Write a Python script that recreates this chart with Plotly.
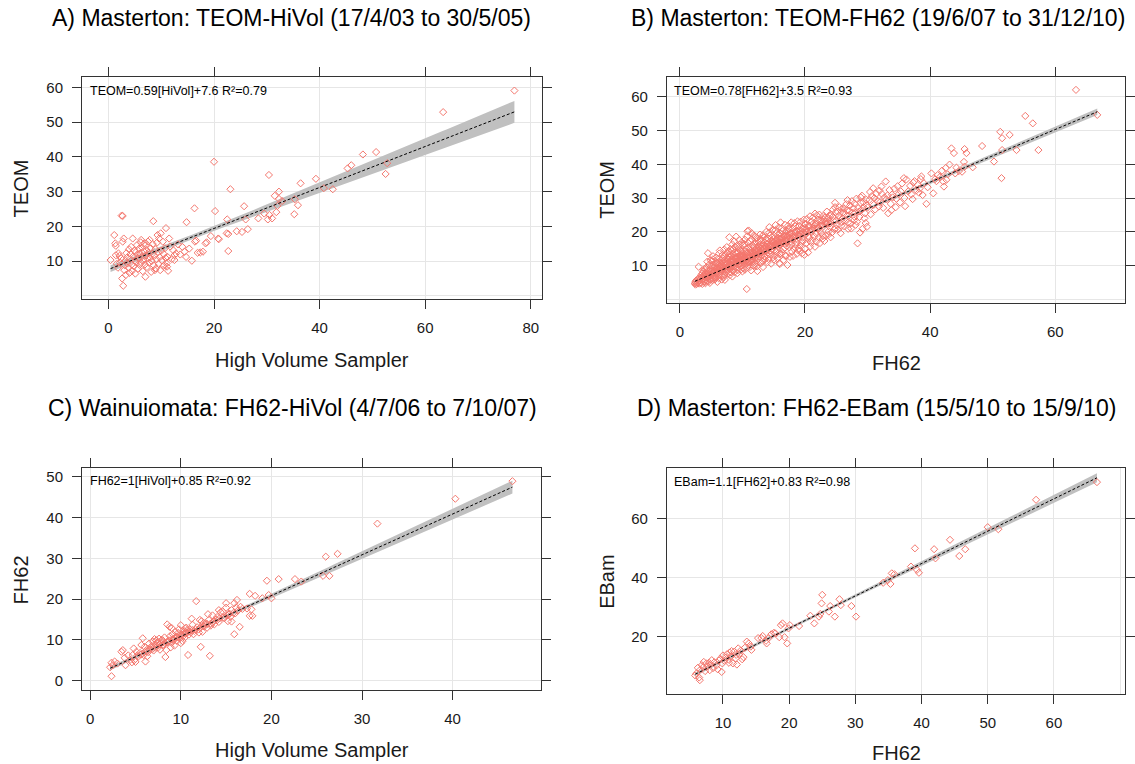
import numpy as np
import plotly.graph_objects as go

W, H = 1135, 764
FONT = "Liberation Sans, Arial, sans-serif"
PT_COLOR = "#F4776E"
BAND_COLOR = "rgb(192,192,192)"

# A) Masterton: TEOM vs High Volume Sampler (HiVol, TEOM)
pts_a = [
    (0.4, 10.3), (1.1, 17.5), (1.3, 15.1), (1.4, 14.4), (1.4, 11.7), (1.9, 12.2), (2.4, 10.8), (1.6, 9.2),
    (1.8, 8.1), (2.1, 11.5), (2.2, 9.6), (2.5, 23.1), (2.7, 23.0), (2.7, 15.6), (2.9, 16.5), (2.6, 5.0),
    (2.8, 2.9), (3.3, 6.0), (3.0, 7.4), (3.1, 8.8), (3.2, 10.1), (3.4, 12.3), (3.5, 11.0), (3.6, 9.3),
    (3.8, 8.1), (3.9, 13.4), (4.0, 6.6), (4.1, 10.6), (4.3, 14.1), (4.2, 12.0), (4.4, 9.0), (4.5, 7.2),
    (4.6, 16.5), (4.7, 11.4), (4.8, 8.5), (4.9, 13.0), (5.0, 10.2), (5.1, 6.4), (5.2, 12.6), (5.3, 9.6),
    (5.4, 14.6), (5.5, 11.9), (5.6, 7.8), (5.7, 10.8), (5.8, 13.6), (5.9, 8.9), (6.0, 12.2), (6.1, 15.4),
    (6.2, 16.1), (6.2, 9.5), (6.3, 11.2), (6.4, 13.9), (6.5, 7.1), (6.6, 10.3), (6.7, 12.8), (6.8, 15.1),
    (6.9, 9.0), (7.0, 5.5), (7.0, 14.5), (7.1, 11.6), (7.2, 13.2), (7.3, 8.3), (7.4, 10.7), (7.5, 15.6),
    (7.6, 12.4), (7.7, 9.5), (7.8, 16.1), (7.9, 11.0), (8.0, 13.7), (8.1, 6.9), (8.2, 10.0), (8.3, 12.1),
    (8.4, 14.9), (8.5, 21.5), (8.6, 8.8), (8.7, 11.5), (8.8, 7.4), (8.9, 13.4), (9.0, 7.9), (9.1, 10.5),
    (9.2, 15.3), (9.3, 17.5), (9.4, 12.6), (9.5, 9.2), (9.6, 16.5), (9.7, 11.1), (9.8, 7.4), (9.9, 18.0),
    (10.0, 13.0), (10.1, 10.2), (10.3, 15.6), (10.4, 8.6), (10.5, 12.0), (10.6, 8.8), (10.7, 13.7), (10.8, 10.9),
    (10.9, 19.5), (11.0, 9.3), (11.1, 8.4), (11.2, 11.2), (11.3, 7.2), (11.5, 16.5), (11.7, 14.2), (12.0, 10.6),
    (12.3, 13.1), (12.5, 10.3), (12.5, 11.7), (12.8, 12.2), (13.2, 14.8), (13.6, 11.9), (14.0, 14.1), (14.4, 12.7),
    (14.7, 11.2), (14.8, 21.2), (15.3, 13.6), (15.8, 10.1), (16.3, 25.2), (16.4, 15.6), (16.6, 15.9), (16.9, 12.4),
    (17.4, 12.5), (17.9, 12.7), (18.4, 15.1), (18.6, 15.4), (19.4, 17.2), (20.2, 24.4), (20.0, 38.6), (20.8, 16.5),
    (20.9, 16.3), (22.4, 18.0), (22.5, 22.0), (22.7, 12.9), (22.7, 17.8), (23.1, 30.7), (24.3, 18.6), (25.3, 18.4),
    (25.7, 25.8), (26.0, 22.0), (26.4, 19.2), (28.4, 22.3), (29.5, 23.7), (30.2, 22.0), (30.4, 34.8), (30.5, 23.3),
    (31.0, 22.3), (31.5, 28.8), (31.8, 24.1), (32.0, 25.9), (32.3, 30.0), (32.3, 27.9), (32.9, 27.3), (35.2, 23.5),
    (35.3, 27.8), (35.9, 26.1), (36.4, 32.4), (39.3, 33.7), (40.8, 31.0), (42.5, 30.7), (45.3, 36.7), (46.0, 37.6),
    (48.2, 40.7), (50.7, 41.4), (52.5, 35.1), (52.8, 38.2), (63.4, 52.9), (76.9, 59.1),
]

# B) Masterton: TEOM vs FH62 (FH62, TEOM)
pts_b = [
    (2.4, 4.8), (2.5, 5.2), (2.5, 4.4), (2.6, 5.6), (2.8, 4.9), (2.9, 6.1), (3.0, 9.7), (3.0, 5.3), (2.7, 4.6), (3.1, 4.7),
    (3.2, 6.5), (3.3, 5.0), (3.4, 7.2), (3.5, 5.8), (3.6, 4.6), (3.7, 8.3), (3.8, 6.2), (3.9, 9.0), (3.4, 4.9), (3.6, 7.7),
    (3.9, 5.4), (3.8, 7.0), (4.0, 5.1), (4.1, 7.9), (4.2, 6.4), (4.3, 9.6), (4.4, 5.5), (4.5, 13.7), (4.5, 8.4), (4.6, 7.0),
    (4.7, 10.3), (4.8, 6.0), (4.9, 8.9), (4.1, 4.8), (4.4, 11.2), (4.8, 4.9), (4.2, 9.0), (4.6, 5.3), (4.9, 11.6), (5.0, 7.4),
    (5.1, 9.8), (5.2, 5.7), (5.3, 11.9), (5.4, 8.1), (5.5, 6.5), (5.6, 10.6), (5.7, 7.9), (5.8, 12.4), (5.9, 9.1), (5.0, 6.0),
    (5.2, 8.6), (5.4, 10.3), (5.6, 5.9), (5.8, 7.2), (5.3, 12.8), (5.5, 9.4), (5.9, 11.0), (5.7, 6.4), (5.1, 11.2), (6.0, 8.0),
    (6.1, 10.2), (6.2, 6.3), (6.3, 12.0), (6.4, 9.3), (6.5, 7.1), (6.6, 11.4), (6.7, 8.6), (6.8, 13.1), (6.9, 10.0), (6.0, 5.2),
    (6.2, 11.0), (6.4, 7.6), (6.6, 9.9), (6.8, 6.8), (6.3, 13.6), (6.5, 10.7), (6.9, 12.2), (6.1, 8.8), (6.7, 5.9), (6.4, 14.5),
    (7.0, 9.0), (7.1, 11.6), (7.2, 7.3), (7.3, 13.5), (7.4, 10.4), (7.5, 8.2), (7.6, 12.3), (7.7, 9.6), (7.8, 14.2), (7.9, 18.4),
    (7.0, 6.6), (7.2, 12.9), (7.4, 8.7), (7.6, 10.9), (7.8, 7.8), (7.1, 14.8), (7.3, 10.0), (7.5, 15.5), (7.7, 11.8), (7.9, 9.2),
    (7.2, 5.8), (7.6, 13.8), (7.9, 12.6), (8.0, 10.1), (8.1, 12.7), (8.2, 8.0), (8.3, 14.4), (8.4, 11.2), (8.5, 9.0), (8.6, 13.3),
    (8.7, 10.5), (8.8, 15.6), (8.9, 12.0), (8.0, 7.2), (8.2, 11.6), (8.4, 16.3), (8.6, 8.6), (8.8, 13.9), (8.1, 14.9), (8.3, 9.7),
    (8.5, 12.5), (8.7, 17.2), (8.9, 10.9), (8.4, 6.8), (8.6, 15.0), (8.0, 13.4), (8.8, 8.2), (9.0, 18.6), (9.1, 10.8), (9.2, 13.7),
    (9.3, 8.7), (9.4, 15.2), (9.5, 12.0), (9.6, 9.8), (9.7, 14.3), (9.8, 11.3), (9.9, 16.9), (9.0, 12.5), (9.2, 7.8), (9.4, 11.7),
    (9.6, 13.1), (9.8, 8.9), (9.1, 15.8), (9.3, 10.4), (9.5, 17.6), (9.7, 12.8), (9.9, 10.0), (9.3, 14.0), (9.6, 16.2), (9.9, 13.5),
    (9.0, 9.4), (10.0, 11.5), (10.1, 14.6), (10.2, 9.2), (10.3, 16.4), (10.4, 12.6), (10.5, 10.3), (10.6, 15.0), (10.7, 3.1), (10.8, 20.2),
    (10.9, 13.2), (10.0, 8.3), (10.2, 13.0), (10.4, 17.7), (10.6, 11.1), (10.8, 9.5), (10.1, 16.0), (10.3, 11.9), (10.5, 14.2), (10.7, 18.6),
    (10.9, 11.0), (11.0, 20.4), (10.4, 8.8), (10.7, 13.6), (10.9, 16.8), (10.2, 12.2), (11.0, 12.3), (11.1, 15.4), (11.2, 9.6), (11.3, 17.2),
    (11.4, 13.5), (11.5, 11.0), (11.6, 16.1), (11.7, 12.7), (11.8, 18.9), (11.9, 14.3), (11.1, 10.4), (11.3, 13.9), (11.5, 19.6), (11.7, 10.1),
    (11.9, 16.7), (11.2, 14.8), (11.4, 8.6), (11.6, 12.0), (11.8, 15.5), (11.3, 11.5), (11.8, 9.9), (11.5, 17.8), (12.0, 13.1), (12.1, 16.6),
    (12.2, 10.6), (12.3, 18.3), (12.4, 14.2), (12.5, 11.9), (12.6, 17.0), (12.7, 13.6), (12.8, 19.2), (12.9, 15.1), (12.1, 12.4), (12.3, 9.8),
    (12.5, 15.7), (12.7, 10.9), (12.9, 17.9), (12.2, 14.6), (12.4, 8.4), (12.6, 12.8), (12.8, 16.2), (12.0, 18.7), (13.0, 14.0), (13.1, 17.4),
    (13.2, 11.4), (13.3, 19.0), (13.4, 15.1), (13.5, 12.6), (13.6, 16.9), (13.7, 14.4), (13.8, 20.0), (13.9, 13.0), (13.0, 10.8), (13.2, 16.0),
    (13.4, 18.4), (13.6, 11.8), (13.8, 15.6), (13.1, 13.2), (13.3, 9.6), (13.5, 14.9), (13.7, 17.8), (13.9, 16.3), (14.0, 14.8), (14.1, 18.0),
    (14.2, 12.0), (14.3, 19.8), (14.4, 15.9), (14.5, 13.3), (14.6, 17.4), (14.7, 15.0), (14.8, 20.6), (14.9, 12.5), (14.0, 11.0), (14.2, 16.8),
    (14.4, 18.9), (14.6, 10.6), (14.8, 16.3), (14.1, 13.9), (14.3, 21.4), (14.5, 14.4), (14.7, 18.4), (14.9, 17.0), (15.0, 15.6), (15.1, 18.8),
    (15.2, 12.9), (15.3, 20.5), (15.4, 16.6), (15.5, 14.0), (15.6, 18.1), (15.7, 15.8), (15.8, 21.3), (15.9, 13.4), (15.0, 11.8), (15.2, 17.3),
    (15.4, 19.6), (15.6, 12.2), (15.8, 17.0), (15.1, 14.6), (15.3, 22.0), (15.5, 16.1), (15.7, 19.1), (15.9, 10.7), (16.0, 16.3), (16.1, 19.5),
    (16.2, 13.6), (16.3, 21.1), (16.4, 17.4), (16.5, 14.8), (16.6, 18.9), (16.7, 16.5), (16.8, 22.1), (16.9, 12.8), (16.0, 10.5), (16.2, 18.0),
    (16.4, 20.3), (16.6, 11.7), (16.8, 15.3), (16.1, 22.8), (16.5, 16.9), (16.9, 19.8), (16.3, 14.0), (17.0, 17.1), (17.1, 20.2), (17.2, 10.2),
    (17.3, 21.8), (17.4, 18.0), (17.5, 15.4), (17.6, 19.6), (17.7, 17.2), (17.8, 22.8), (17.9, 14.2), (17.0, 13.0), (17.2, 18.8), (17.4, 21.0),
    (17.6, 12.6), (17.8, 16.1), (17.1, 15.8), (17.5, 20.7), (17.9, 18.6), (18.0, 17.8), (18.1, 21.0), (18.2, 15.0), (18.3, 22.6), (18.4, 18.7),
    (18.5, 16.2), (18.6, 20.3), (18.7, 13.5), (18.8, 23.1), (18.9, 19.2), (18.1, 12.9), (18.3, 17.4), (18.5, 21.7), (18.7, 16.8), (18.9, 14.6),
    (18.4, 20.0), (19.0, 18.5), (19.1, 21.7), (19.2, 16.0), (19.3, 23.0), (19.4, 19.4), (19.5, 13.6), (19.6, 21.0), (19.7, 17.3), (19.8, 23.6),
    (19.9, 13.2), (19.0, 15.1), (19.3, 20.4), (19.6, 18.3), (19.9, 22.4), (19.2, 14.4), (19.5, 17.0), (20.0, 19.3), (20.1, 22.3), (20.2, 16.6),
    (20.3, 23.8), (20.4, 20.1), (20.5, 13.9), (20.6, 21.6), (20.7, 18.2), (20.8, 24.6), (20.9, 17.0), (20.2, 20.8), (20.5, 18.8), (20.8, 15.6),
    (20.1, 15.0), (21.0, 20.1), (21.1, 23.0), (21.2, 17.5), (21.3, 24.3), (21.4, 21.0), (21.5, 18.6), (21.6, 15.6), (21.7, 22.3), (21.8, 19.5),
    (21.9, 24.9), (21.2, 20.5), (21.5, 22.0), (21.8, 17.1), (21.6, 25.4), (22.0, 21.0), (22.1, 23.6), (22.2, 18.4), (22.3, 25.1), (22.4, 16.7),
    (22.5, 21.8), (22.6, 19.6), (22.7, 23.4), (22.8, 17.9), (22.9, 24.7), (22.3, 20.4), (22.6, 22.5), (22.9, 18.8), (23.0, 21.7), (23.2, 24.2),
    (23.3, 18.9), (23.5, 26.0), (23.6, 22.4), (23.8, 20.2), (23.9, 24.9), (23.1, 17.3), (23.4, 23.1), (23.7, 19.1), (23.9, 21.5), (24.0, 22.5),
    (24.2, 25.0), (24.3, 19.8), (24.5, 26.6), (24.6, 23.2), (24.8, 28.6), (24.9, 21.0), (24.1, 18.4), (24.4, 24.4), (24.7, 20.7), (24.9, 25.8),
    (24.8, 27.3), (25.0, 23.3), (25.2, 26.0), (25.3, 20.7), (25.5, 27.3), (25.6, 24.1), (25.8, 21.8), (25.9, 26.8), (25.1, 22.0), (25.4, 24.8),
    (25.7, 19.6), (25.9, 23.0), (26.0, 24.0), (26.2, 27.0), (26.3, 21.6), (26.5, 25.2), (26.6, 28.2), (26.8, 29.4), (26.9, 22.8), (26.1, 25.8),
    (26.4, 23.3), (26.7, 26.4), (26.9, 20.9), (27.0, 24.8), (27.2, 27.8), (27.3, 22.5), (27.5, 29.1), (27.6, 25.7), (27.8, 23.4), (27.9, 28.4),
    (27.1, 26.2), (27.4, 21.0), (27.7, 27.0), (27.9, 24.5), (28.0, 25.6), (28.2, 29.8), (28.3, 23.0), (28.4, 16.6), (28.5, 27.0), (28.7, 24.4),
    (28.9, 28.6), (28.1, 22.1), (28.6, 26.0), (28.8, 19.8), (28.9, 30.2), (29.0, 26.4), (29.2, 20.9), (29.3, 28.8), (29.5, 24.0), (29.6, 25.5),
    (29.8, 29.5), (29.9, 21.5), (29.1, 30.7), (29.4, 27.2), (29.7, 22.6), (29.9, 27.8), (30.0, 27.2), (30.3, 29.5), (30.5, 25.2), (30.7, 30.6),
    (30.9, 32.9), (31.0, 28.0), (31.2, 26.6), (31.4, 31.3), (31.6, 29.2), (31.8, 27.5), (31.1, 30.0), (31.9, 32.2), (30.4, 31.8), (32.0, 28.8),
    (32.3, 31.2), (32.5, 27.1), (32.7, 30.2), (32.9, 34.9), (33.0, 29.6), (33.3, 25.5), (33.5, 32.4), (33.7, 28.3), (33.9, 31.0), (32.2, 33.4),
    (33.2, 30.8), (33.8, 26.4), (34.0, 30.2), (34.3, 32.8), (34.5, 27.3), (34.8, 33.5), (35.0, 31.2), (35.2, 28.7), (35.5, 34.3), (35.8, 35.9),
    (35.9, 30.0), (34.6, 29.8), (35.3, 32.0), (36.2, 35.5), (36.0, 27.6), (36.5, 32.0), (36.8, 33.6), (37.0, 31.1), (37.3, 34.6), (37.5, 35.0),
    (37.8, 32.3), (38.0, 33.9), (38.2, 31.6), (38.5, 35.6), (38.8, 30.9), (39.0, 34.4), (39.4, 28.3), (39.6, 33.2), (38.6, 36.4), (37.2, 29.7),
    (38.3, 32.8), (40.2, 37.3), (40.5, 31.4), (40.8, 35.6), (41.2, 36.8), (41.6, 36.3), (41.9, 38.1), (42.1, 34.9), (42.2, 33.4), (42.5, 38.9),
    (42.8, 37.0), (43.1, 39.9), (43.4, 44.7), (43.8, 43.3), (44.2, 39.0), (44.6, 38.0), (45.1, 37.8), (45.4, 40.7), (45.5, 44.5), (45.5, 39.3),
    (45.8, 43.3), (46.8, 39.1), (42.6, 35.4), (41.0, 35.0), (44.0, 37.3), (48.3, 45.4), (50.2, 40.8), (51.2, 49.6), (51.5, 47.7), (51.5, 44.2),
    (51.4, 35.9), (52.7, 48.7), (53.8, 44.2), (55.2, 54.3), (56.4, 52.1), (57.3, 44.2), (63.3, 62.0), (66.7, 54.6),
    # dense core close to the fitted line
    (3.1, 5.8), (3.3, 6.1), (3.5, 6.6), (3.7, 6.0), (3.9, 7.4), (4.0, 6.8), (4.2, 7.3), (4.3, 6.5), (4.5, 7.8), (4.6, 6.6),
    (4.7, 7.5), (4.9, 7.0), (5.0, 8.2), (5.1, 7.6), (5.3, 8.0), (5.4, 7.1), (5.5, 8.5), (5.7, 8.3), (5.8, 9.3), (5.9, 7.8),
    (6.0, 9.0), (6.1, 7.6), (6.2, 8.9), (6.3, 9.8), (6.5, 8.4), (6.6, 9.4), (6.7, 10.4), (6.8, 8.8), (6.9, 9.5), (7.0, 10.8),
    (7.1, 9.2), (7.2, 10.1), (7.3, 8.9), (7.4, 11.2), (7.5, 9.7), (7.6, 10.6), (7.7, 8.7), (7.8, 11.0), (7.9, 10.3), (8.0, 9.5),
    (8.1, 11.4), (8.2, 10.2), (8.3, 11.9), (8.4, 9.9), (8.5, 10.8), (8.6, 11.7), (8.7, 9.8), (8.8, 12.3), (8.9, 11.2), (9.0, 10.6),
    (9.1, 12.2), (9.2, 11.0), (9.3, 12.6), (9.4, 10.3), (9.5, 11.6), (9.6, 12.9), (9.7, 10.7), (9.8, 12.2), (9.9, 11.7), (10.0, 12.6),
    (10.1, 10.9), (10.2, 11.4), (10.3, 13.4), (10.4, 11.9), (10.5, 13.0), (10.6, 12.1), (10.7, 11.5), (10.8, 13.8), (10.9, 12.6), (11.0, 11.2),
    (11.1, 13.1), (11.2, 12.4), (11.3, 14.4), (11.4, 11.8), (11.5, 13.3), (11.6, 14.1), (11.7, 12.9), (11.8, 13.6), (11.9, 12.0), (12.0, 14.7),
    (12.1, 13.6), (12.2, 12.9), (12.3, 15.2), (12.4, 13.3), (12.5, 14.6), (12.6, 13.8), (12.7, 15.5), (12.8, 14.0), (12.9, 13.5), (13.0, 15.1),
    (13.2, 14.4), (13.4, 16.0), (13.5, 14.9), (13.7, 15.8), (13.9, 14.6), (14.0, 16.5), (14.2, 15.2), (14.4, 16.2), (14.5, 15.6), (14.7, 17.0),
    (14.9, 15.9), (15.0, 16.9), (15.2, 16.1), (15.4, 17.6), (15.5, 16.5), (15.7, 17.3), (15.9, 16.2), (16.0, 18.0), (16.2, 16.8), (16.4, 18.3),
    (16.5, 17.2), (16.7, 18.6), (16.9, 17.5), (17.0, 18.9), (17.2, 17.4), (17.4, 19.1), (17.5, 18.2), (17.7, 19.4), (17.9, 18.0), (18.0, 19.5),
    (18.3, 18.8), (18.5, 20.0), (18.8, 19.0), (19.0, 20.5), (19.3, 19.3), (19.5, 20.9), (19.8, 19.8), (20.0, 21.2), (20.3, 20.0), (20.6, 21.9),
    (20.9, 20.6), (21.2, 22.2), (21.5, 21.0), (21.8, 22.6), (22.1, 21.3), (22.4, 23.2), (22.7, 21.9), (23.0, 23.6), (23.4, 22.4), (23.7, 24.1),
    (24.0, 23.0),
]

# C) Wainuiomata: FH62 vs High Volume Sampler (HiVol, FH62)
pts_c = [
    (2.2, 3.3), (2.35, 4.4), (2.35, 1.1), (2.5, 3.8), (2.7, 4.7), (3.0, 4.2), (3.45, 7.1), (3.6, 7.5), (3.8, 5.6), (3.9, 3.8),
    (4.4, 5.1), (4.2, 6.2), (4.7, 6.3), (4.9, 5.1), (5.1, 7.1), (5.3, 5.9), (4.6, 4.5), (4.8, 7.9), (5.0, 4.6), (5.5, 6.8),
    (5.8, 10.4), (5.65, 8.75), (6.0, 8.3), (6.2, 7.5), (6.1, 4.7), (5.9, 6.3), (6.4, 7.0), (6.5, 9.1), (6.7, 8.2), (6.9, 9.6),
    (7.0, 7.4), (7.2, 8.8), (7.3, 9.9), (7.5, 8.1), (7.6, 10.3), (7.8, 9.2), (7.9, 10.0), (6.3, 6.0), (7.1, 10.2), (7.7, 7.6),
    (6.8, 8.5), (7.4, 9.4), (8.0, 9.9), (8.1, 8.8), (8.2, 10.6), (8.3, 5.8), (8.4, 7.5), (8.5, 13.8), (8.75, 13.2), (8.6, 9.5),
    (8.8, 10.9), (9.0, 9.3), (9.1, 11.4), (9.2, 10.2), (9.3, 8.6), (9.4, 12.0), (9.5, 10.8), (9.6, 9.8), (9.7, 11.7), (9.8, 12.6),
    (9.9, 10.4), (10.0, 13.6), (10.1, 11.1), (10.2, 9.7), (10.3, 12.3), (10.4, 10.5), (10.5, 11.9), (10.6, 13.0), (10.7, 12.4), (10.8, 6.3),
    (10.9, 11.3), (9.0, 12.9), (8.9, 8.2), (10.0, 9.2), (10.5, 12.8), (11.0, 12.6), (11.2, 15.2), (11.3, 13.7), (11.5, 12.2), (11.7, 19.5),
    (11.8, 13.1), (12.0, 11.8), (12.1, 12.9), (12.2, 8.3), (12.3, 14.6), (12.5, 13.4), (12.7, 14.1), (12.9, 13.0), (13.0, 16.3), (13.1, 14.9),
    (13.2, 6.1), (13.3, 13.5), (13.5, 14.2), (13.7, 13.8), (13.9, 15.0), (11.4, 11.4), (12.4, 12.0), (12.1, 14.9), (12.5, 14.1), (13.5, 16.0),
    (14.0, 15.6), (14.2, 14.4), (14.4, 16.8), (14.6, 17.0), (14.8, 15.3), (15.0, 17.9), (15.2, 14.6), (15.3, 16.3), (15.5, 15.7), (15.6, 14.5),
    (15.9, 11.4), (15.9, 19.0), (16.1, 18.0), (16.2, 19.8), (16.5, 13.2), (16.6, 18.1), (17.3, 17.7), (17.6, 21.3), (17.6, 15.9), (17.8, 17.5),
    (17.9, 15.9), (18.2, 20.8), (19.0, 20.2), (19.5, 24.5), (19.7, 21.0), (20.0, 20.2), (20.8, 24.9), (22.6, 24.9), (23.3, 24.3), (25.7, 25.7),
    (26.0, 30.4), (26.4, 25.7), (27.3, 31.1), (31.7, 38.5), (40.3, 44.6), (46.6, 48.9), (15.6, 17.3), (15.0, 19.0), (14.2, 17.3), (16.0, 16.5),
    (5.2, 6.2), (5.6, 6.4), (6.0, 7.0), (6.3, 7.3), (6.6, 7.6), (6.9, 7.8), (7.2, 8.1), (7.5, 8.6), (7.7, 8.9), (8.0, 8.7),
    (8.2, 9.3), (8.5, 9.4), (8.7, 9.9), (9.0, 10.1), (9.2, 9.9), (9.4, 10.4), (9.6, 10.7), (9.9, 10.9), (10.1, 11.3), (10.3, 11.0),
    (10.5, 11.6), (10.7, 11.8), (10.9, 12.0), (11.1, 11.9), (11.3, 12.4), (11.6, 12.6), (11.9, 12.5), (12.2, 13.1), (12.6, 13.3), (12.9, 13.9),
    (13.3, 14.0), (13.6, 14.6), (14.0, 14.8), (14.3, 15.3), (14.7, 15.5), (15.1, 16.0), (15.4, 16.4), (15.8, 16.6), (16.3, 17.2), (16.8, 17.6),
]

# D) Masterton: EBam vs FH62 (FH62, EBam)
pts_d = [
    (5.8, 6.8), (6.0, 7.5), (6.2, 9.4), (6.4, 6.1), (6.5, 5.2), (6.6, 8.8), (6.8, 10.3), (7.0, 9.6), (7.1, 11.4), (7.3, 8.3),
    (7.5, 10.9), (7.7, 9.9), (7.9, 11.1), (8.1, 10.6), (8.3, 12.0), (8.5, 9.3), (8.7, 11.3), (9.0, 10.2), (9.2, 8.9), (9.4, 11.9),
    (9.6, 12.5), (9.8, 8.0), (10.0, 13.6), (10.2, 11.8), (10.4, 12.9), (10.6, 14.0), (10.8, 12.2), (11.0, 14.6), (11.2, 13.3), (11.5, 10.9),
    (11.7, 14.9), (11.9, 12.6), (12.1, 10.5), (12.3, 16.0), (12.5, 14.2), (12.7, 15.3), (12.9, 12.3), (13.1, 13.0), (13.3, 16.2), (13.6, 18.3),
    (13.9, 17.7), (14.2, 16.6), (14.3, 15.5), (11.3, 15.1), (9.9, 10.9), (8.0, 8.6), (10.9, 11.1), (12.0, 13.8), (15.3, 19.5), (15.8, 19.5),
    (16.0, 20.2), (16.5, 18.6), (16.6, 17.7), (16.9, 19.5), (17.3, 20.8), (17.7, 21.3), (17.9, 21.1), (18.5, 19.8), (18.75, 23.9), (19.0, 24.5),
    (19.3, 19.8), (19.7, 17.7), (19.9, 22.8), (20.1, 23.9), (21.5, 23.6), (23.2, 27.1), (23.8, 24.5), (24.5, 26.8), (24.7, 27.7), (24.9, 31.3),
    (25.0, 34.2), (26.0, 28.5), (26.2, 30.4), (26.9, 26.8), (27.6, 32.7), (27.8, 30.7), (29.4, 30.4), (30.1, 26.8), (34.2, 38.3), (34.9, 39.2),
    (35.3, 37.9), (35.5, 41.5), (35.9, 41.2), (38.4, 43.8), (39.0, 50.0), (39.3, 42.7), (39.6, 41.7), (41.9, 49.7), (42.1, 46.6), (44.3, 52.9),
    (45.7, 47.4), (46.6, 49.7), (50.0, 57.2), (51.6, 56.5), (57.3, 66.5), (66.5, 72.5),
]

# Fitted lines as stated in each panel's label (slope, intercept)
fit_a = (0.59, 7.6)
fit_b = (0.78, 3.5)
fit_c = (1.0, 0.85)
fit_d = (1.1, 0.83)

titles = [
    "A) Masterton: TEOM-HiVol (17/4/03 to 30/5/05)",
    "B) Masterton: TEOM-FH62 (19/6/07 to 31/12/10)",
    "C) Wainuiomata: FH62-HiVol (4/7/06 to 7/10/07)",
    "D) Masterton: FH62-EBam (15/5/10 to 15/9/10)",
]
x_labels = ["High Volume Sampler", "FH62", "High Volume Sampler", "FH62"]
y_labels = ["TEOM", "TEOM", "FH62", "EBam"]
eq_labels = [
    "TEOM=0.59[HiVol]+7.6 R²=0.79",
    "TEOM=0.78[FH62]+3.5 R²=0.93",
    "FH62=1[HiVol]+0.85 R²=0.92",
    "EBam=1.1[FH62]+0.83 R²=0.98",
]

# Layout of each panel in pixels: frame (left, right, top, bottom), axis ranges and ticks
panels = [
    dict(pts=pts_a, fit=fit_a, frame=(82.4, 544.8, 76.7, 299.3), xr=[-5.0, 82.2], yr=[-1.0, 63.1],
         xt=[0, 20, 40, 60, 80], yt=[10, 20, 30, 40, 50, 60], xg=[], yg=[0],
         title_xy=(293, 18), xlab_xy=(313, 360), ylab_xy=(21.5, 188), eq_xy=(88.5, 91)),
    dict(pts=pts_b, fit=fit_b, frame=(669.8, 1130.4, 76.7, 302.7), xr=[-2.07, 71.2], yr=[-0.95, 65.9],
         xt=[0, 20, 40, 60], yt=[10, 20, 30, 40, 50, 60], xg=[], yg=[0],
         title_xy=(882, 18), xlab_xy=(900, 363), ylab_xy=(609.5, 190), eq_xy=(674.5, 91)),
    dict(pts=pts_c, fit=fit_c, frame=(82.4, 542.9, 468.3, 690.0), xr=[-0.9, 49.7], yr=[-2.28, 52.06],
         xt=[0, 10, 20, 30, 40], yt=[0, 10, 20, 30, 40, 50], xg=[], yg=[],
         title_xy=(294, 408), xlab_xy=(313, 750), ylab_xy=(21.5, 580), eq_xy=(88.5, 481)),
    dict(pts=pts_d, fit=fit_d, frame=(669.8, 1130.4, 468.3, 694.0), xr=[1.52, 70.8], yr=[0.5, 77.2],
         xt=[10, 20, 30, 40, 50, 60], yt=[20, 40, 60], xg=[70], yg=[],
         title_xy=(880, 408), xlab_xy=(900, 753), ylab_xy=(609.5, 582), eq_xy=(674.5, 482)),
]


def px(x):
    return x / W


def py(y):
    return 1 - y / H


def conf_band(xs, ys, slope, icpt, grid, t=1.97):
    """95% confidence band of the mean around the fitted line."""
    xs = np.asarray(xs)
    ys = np.asarray(ys)
    n = len(xs)
    resid = ys - (slope * xs + icpt)
    s = np.sqrt((resid ** 2).sum() / (n - 2))
    xbar = xs.mean()
    sxx = ((xs - xbar) ** 2).sum()
    half = t * s * np.sqrt(1.0 / n + (grid - xbar) ** 2 / sxx)
    fit = slope * grid + icpt
    return fit - half, fit + half


fig = go.Figure()
annotations = []
axis_style = dict(
    showline=True, linecolor="#333333", linewidth=1, mirror="ticks",
    ticks="outside", ticklen=9, tickwidth=1, tickcolor="#333333",
    showgrid=True, gridcolor="#E6E6E6", gridwidth=1, zeroline=False,
    tickfont=dict(family=FONT, size=15, color="#1a1a1a"), fixedrange=True,
)

for i, p in enumerate(panels):
    k = "" if i == 0 else str(i + 1)
    xa, ya = "x" + k, "y" + k
    xs = np.array([q[0] for q in p["pts"]])
    ys = np.array([q[1] for q in p["pts"]])
    slope, icpt = p["fit"]
    grid = np.linspace(xs.min(), xs.max(), 120)
    lo, hi = conf_band(xs, ys, slope, icpt, grid)

    fig.add_trace(go.Scatter(
        x=np.concatenate([grid, grid[::-1]]), y=np.concatenate([hi, lo[::-1]]),
        fill="toself", fillcolor=BAND_COLOR, line=dict(width=0), mode="lines",
        hoverinfo="skip", showlegend=False, xaxis=xa, yaxis=ya))
    fig.add_trace(go.Scatter(
        x=xs, y=ys, mode="markers", showlegend=False, xaxis=xa, yaxis=ya,
        marker=dict(symbol="diamond-open", size=5.5, color=PT_COLOR, line=dict(width=1, color=PT_COLOR))))
    fig.add_trace(go.Scatter(
        x=grid, y=slope * grid + icpt, mode="lines", showlegend=False, xaxis=xa, yaxis=ya,
        line=dict(color="black", width=1, dash="3px,2px")))

    left, right, top, bottom = p["frame"]
    xaxis = dict(axis_style, domain=[px(left), px(right)], range=p["xr"], tickvals=p["xt"],
                 anchor=ya, ticklabelstandoff=6)
    yaxis = dict(axis_style, domain=[py(bottom), py(top)], range=p["yr"], tickvals=p["yt"],
                 anchor=xa, ticklabelstandoff=6)
    if p["xg"]:
        xaxis["minor"] = dict(tickvals=p["xg"], showgrid=True, gridcolor="#E6E6E6", ticks="")
    if p["yg"]:
        yaxis["minor"] = dict(tickvals=p["yg"], showgrid=True, gridcolor="#E6E6E6", ticks="")
    fig.update_layout({"xaxis" + k: xaxis, "yaxis" + k: yaxis})

    tx, ty = p["title_xy"]
    annotations.append(dict(text=titles[i], x=px(tx), y=py(ty), xref="paper", yref="paper",
                            xanchor="center", yanchor="middle", showarrow=False,
                            font=dict(family=FONT, size=23, color="black")))
    lx, ly = p["xlab_xy"]
    annotations.append(dict(text=x_labels[i], x=px(lx), y=py(ly), xref="paper", yref="paper",
                            xanchor="center", yanchor="middle", showarrow=False,
                            font=dict(family=FONT, size=20, color="#1a1a1a")))
    vx, vy = p["ylab_xy"]
    annotations.append(dict(text=y_labels[i], x=px(vx), y=py(vy), xref="paper", yref="paper",
                            xanchor="center", yanchor="middle", showarrow=False, textangle=-90,
                            font=dict(family=FONT, size=20, color="#1a1a1a")))
    ex, ey = p["eq_xy"]
    annotations.append(dict(text=eq_labels[i], x=px(ex), y=py(ey), xref="paper", yref="paper",
                            xanchor="left", yanchor="middle", showarrow=False,
                            font=dict(family=FONT, size=12.5, color="black")))

fig.update_layout(
    width=W, height=H, autosize=False,
    margin=dict(l=0, r=0, t=0, b=0),
    paper_bgcolor="white", plot_bgcolor="white",
    annotations=annotations,
    showlegend=False,
)

fig.write_html("out.html", include_plotlyjs=True, config={"displayModeBar": False})
